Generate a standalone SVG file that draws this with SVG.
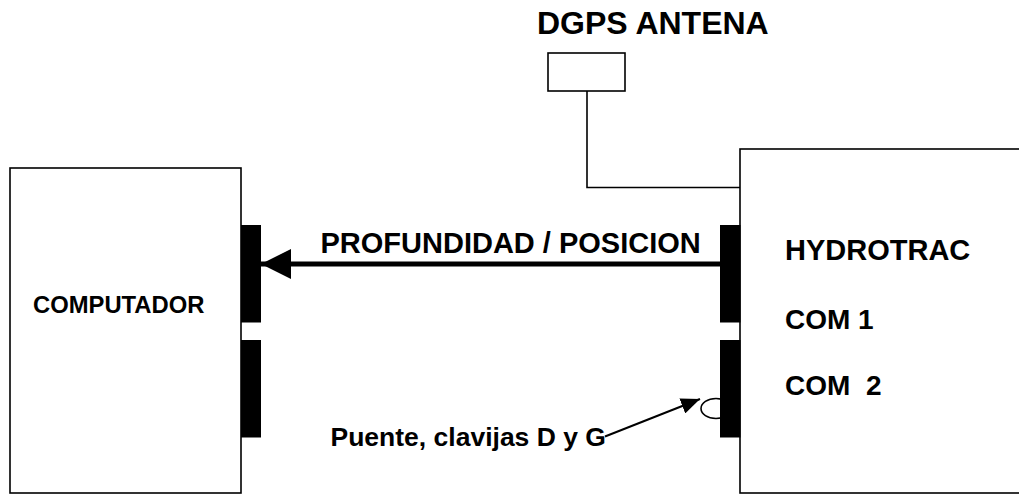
<svg xmlns="http://www.w3.org/2000/svg" width="1019" height="494" viewBox="0 0 1019 494">
<style>
.box{fill:#fff;stroke:#000;stroke-width:1.6}
.bar{fill:#000}
.t{font-family:"Liberation Sans",Arial,sans-serif;font-weight:bold;fill:#000}
.ln{fill:none;stroke:#000}
</style>
<defs>
<marker id="ah" markerUnits="userSpaceOnUse" markerWidth="30" markerHeight="30" refX="30" refY="15" orient="auto">
<path d="M0,0 L30,15 L0,30 Z" fill="#000"/>
</marker>
<marker id="ah2" markerUnits="userSpaceOnUse" markerWidth="20" markerHeight="16" refX="19" refY="8" orient="auto">
<path d="M0,0 L19,8 L0,16 Z" fill="#000"/>
</marker>
</defs>
<rect width="1019" height="494" fill="#fff"/>
<g id="antenna">
<text class="t" x="537" y="34" font-size="32">DGPS ANTENA</text>
<rect class="box" x="548" y="53" width="77" height="38"/>
</g>
<g id="computador">
<rect class="box" x="10" y="168" width="231" height="325"/>
<text class="t" x="33" y="312.5" font-size="23.8">COMPUTADOR</text>
<rect class="bar" x="241" y="225" width="20" height="97.5"/>
<rect class="bar" x="241" y="340" width="20" height="97.5"/>
</g>
<g id="hydrotrac">
<ellipse cx="716" cy="408.5" rx="15" ry="10" fill="none" stroke="#000" stroke-width="1.6"/>
<rect class="box" x="740" y="149" width="290" height="344"/>
<text class="t" x="785" y="259.5" font-size="29">HYDROTRAC</text>
<text class="t" x="785" y="328.5" font-size="28">COM 1</text>
<text class="t" x="785" y="395" font-size="28" xml:space="preserve">COM  2</text>
<rect class="bar" x="720" y="225" width="20.5" height="97.5"/>
<rect class="bar" x="720" y="340" width="20.5" height="97.5"/>
</g>
<g id="puente-label">
<text class="t" x="330.5" y="446" font-size="26.5">Puente, clavijas D y G</text>
</g>
<g id="connectors">
<polyline class="ln" stroke-width="1.6" points="587,91 587,187.5 740,187.5"/>
<line class="ln" x1="720" y1="264" x2="261" y2="264" stroke-width="5" marker-end="url(#ah)"/>
<text class="t" x="320.5" y="253.3" font-size="29">PROFUNDIDAD / POSICION</text>
<line class="ln" x1="605" y1="436.5" x2="700" y2="399" stroke-width="2" marker-end="url(#ah2)"/>
</g>
</svg>
